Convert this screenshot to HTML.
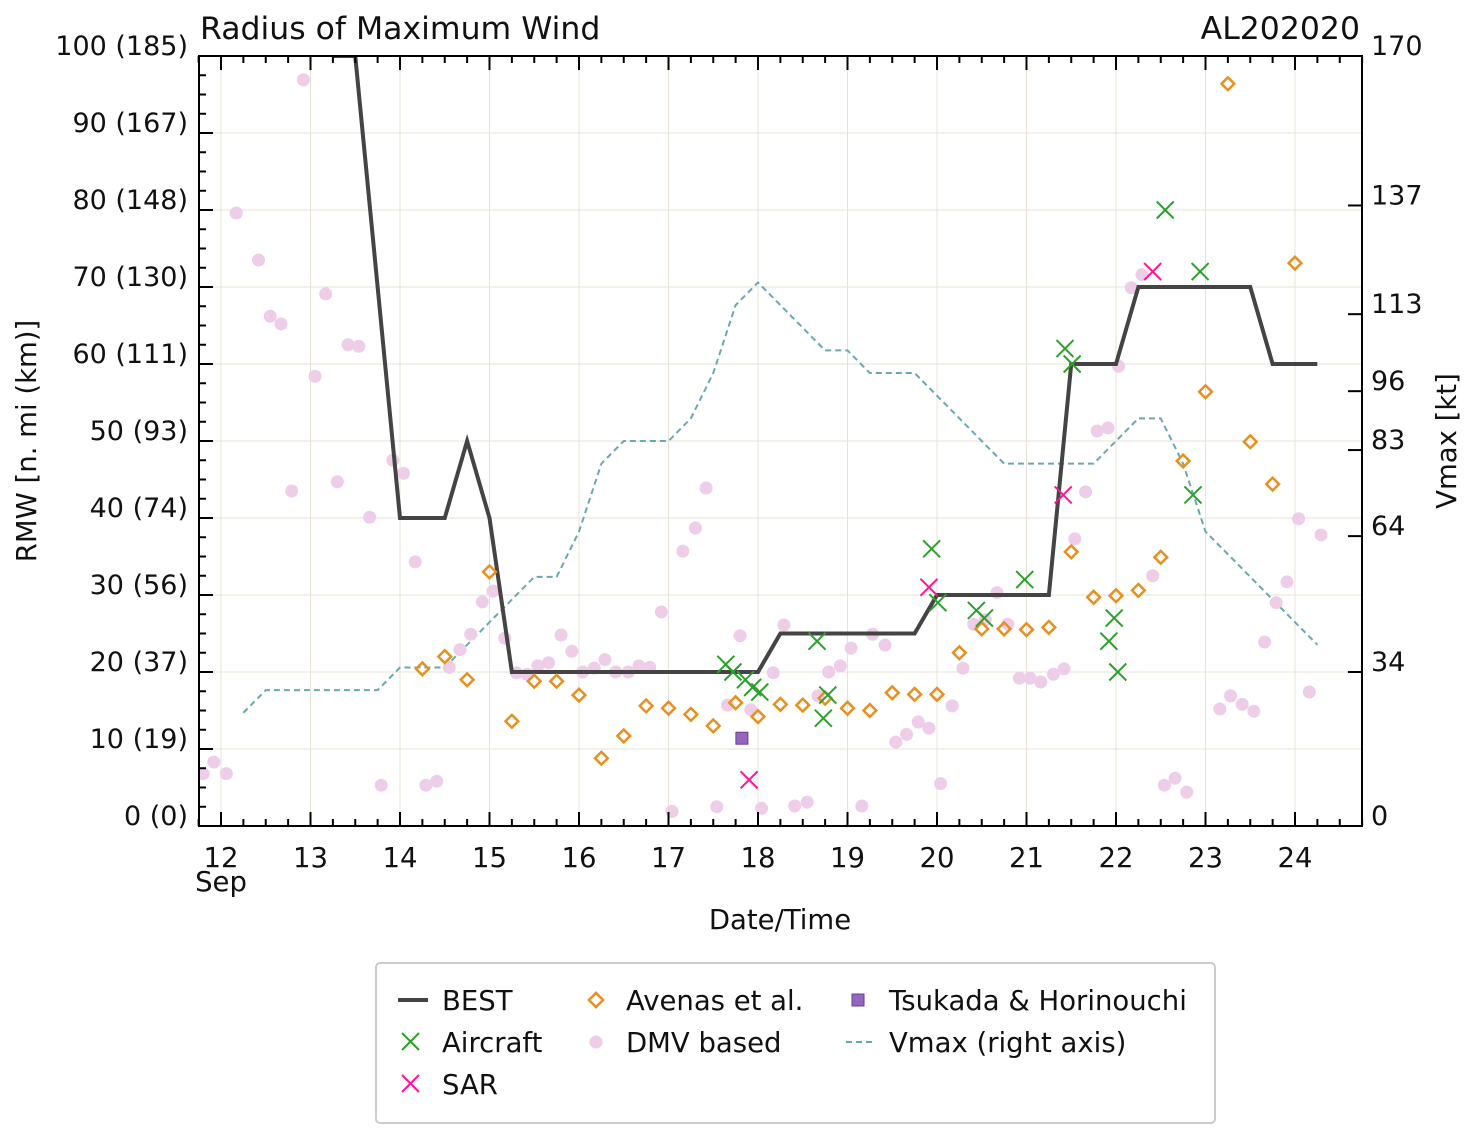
<!DOCTYPE html>
<html><head><meta charset="utf-8"><style>
body{margin:0;background:#fff;}
svg text{font-family:"DejaVu Sans","Liberation Sans",sans-serif;fill:#111;}
</style></head><body>
<svg id="chart" width="1477" height="1138" xmlns="http://www.w3.org/2000/svg">
<g id="grid"></g>
<g id="series"></g>
<g id="axes"></g>
<text x="200" y="39" font-size="31.5">Radius of Maximum Wind</text>
<text x="1360" y="39" font-size="31.5" text-anchor="end">AL202020</text>
<text x="780" y="929" font-size="27.5" text-anchor="middle">Date/Time</text>
<text transform="translate(36,441) rotate(-90)" font-size="27.5" text-anchor="middle">RMW [n. mi (km)]</text>
<text transform="translate(1456,441) rotate(-90)" font-size="27.5" text-anchor="middle">Vmax [kt]</text>
<g>
<rect x="376" y="963" width="839" height="160" rx="4" fill="#fff" stroke="#ccc" stroke-width="2"/>
<line x1="398" y1="1000" x2="428" y2="1000" stroke="#444" stroke-width="4"/>
<text x="442" y="1010" font-size="27.5">BEST</text>
<path d="M402,1033 l17,17 M419,1033 l-17,17" stroke="#2ca02c" stroke-width="2"/>
<text x="442" y="1052" font-size="27.5">Aircraft</text>
<path d="M402,1075 l17,17 M419,1075 l-17,17" stroke="#ff1493" stroke-width="2"/>
<text x="442" y="1094" font-size="27.5">SAR</text>
<rect x="591" y="995" width="10" height="10" transform="rotate(45 596 1000)" fill="none" stroke="#e69020" stroke-width="2.5"/>
<text x="626" y="1010" font-size="27.5">Avenas et al.</text>
<circle cx="596" cy="1042" r="6.5" fill="#eecde8"/>
<text x="626" y="1052" font-size="27.5">DMV based</text>
<rect x="852" y="994" width="12" height="12" fill="#9467bd" stroke="#6a3d9a"/>
<text x="889" y="1010" font-size="27.5">Tsukada &amp; Horinouchi</text>
<line x1="846" y1="1042" x2="876" y2="1042" stroke="#6aa8b0" stroke-width="2" stroke-dasharray="6,4"/>
<text x="889" y="1052" font-size="27.5">Vmax (right axis)</text>
</g>
</svg>
<script>
const bestT=[13.25,13.5,14,14.5,14.75,15,15.25,16,17,18,18.25,19,19.75,20,21,21.25,21.5,22,22.25,23,23.5,23.75,24.25];
const bestR=[100,100,40,40,50,40,20,20,20,20,25,25,25,30,30,30,60,60,70,70,70,60,60];
const vmaxT=[12.25,12.5,12.75,13,13.5,13.75,14,14.5,14.75,15,15.25,15.5,15.75,16,16.25,16.5,17,17.25,17.5,17.75,18,18.25,18.5,18.75,19,19.25,19.75,20,20.25,20.5,20.75,21,21.75,22,22.25,22.5,22.75,23,23.25,23.5,23.75,24,24.25];
const vmaxV=[25,30,30,30,30,30,35,35,40,45,50,55,55,65,80,85,85,90,100,115,120,115,110,105,105,100,100,95,90,85,80,80,80,85,90,90,80,65,60,55,50,45,40];
const airT=[17.64,17.72,17.86,17.94,18.02,18.66,18.73,18.78,19.94,20.01,20.44,20.53,20.98,21.43,21.51,22.55,22.94,22.86,21.98,21.92,22.02];
const airR=[21,20,19,18,17.4,24,14,17,36,29,28,27,32,62,60,80,72,43,27,24,20];
const sarT=[17.9,19.91,21.41,22.41];
const sarR=[6,31,43,72];
const tsuT=[17.82];
const tsuR=[11.4];
const avT=[15,14.5,14.25,14.75,15.25,15.5,15.75,16,16.25,16.5,16.75,17,17.25,17.5,17.75,18,18.25,18.5,18.75,19,19.25,19.5,19.75,20,20.25,20.5,20.75,21,21.25,21.5,21.75,22,22.25,22.5,22.75,23,23.25,23.5,23.75,24];
const avR=[33,22,20.4,19,13.6,18.8,18.8,17,8.8,11.7,15.6,15.3,14.5,13,16,14.2,15.8,15.7,16.6,15.3,15,17.3,17.1,17.1,22.5,25.6,25.6,25.5,25.8,35.6,29.7,29.9,30.6,34.9,47.4,56.4,96.4,49.9,44.4,73.1];
const dmvT=[11.8,11.92,12.06,12.17,12.42,12.55,12.67,12.79,12.92,13.05,13.17,13.3,13.42,13.54,13.66,13.79,13.92,14.04,14.17,14.29,14.41,14.55,14.67,14.79,14.92,15.04,15.17,15.3,15.42,15.54,15.66,15.8,15.92,16.04,16.17,16.29,16.41,16.55,16.67,16.79,16.92,17.04,17.16,17.3,17.42,17.54,17.66,17.8,17.92,18.04,18.17,18.29,18.41,18.55,18.67,18.79,18.92,19.04,19.16,19.28,19.42,19.54,19.66,19.79,19.91,20.04,20.17,20.29,20.41,20.54,20.67,20.79,20.92,21.04,21.16,21.3,21.42,21.54,21.66,21.79,21.91,22.03,22.17,22.29,22.41,22.54,22.66,22.79,23.16,23.28,23.41,23.54,23.66,23.79,23.91,24.04,24.16,24.29];
const dmvR=[6.8,8.3,6.8,79.6,73.5,66.2,65.2,43.5,96.9,58.4,69.1,44.7,62.5,62.3,40.1,5.3,47.5,45.8,34.3,5.3,5.8,20.6,22.9,24.9,29.1,30.5,24.4,19.9,19.7,20.8,21.2,24.8,22.7,20,20.5,21.6,20,20,20.8,20.6,27.8,1.9,35.7,38.7,43.9,2.5,15.7,24.7,15.1,2.3,19.9,26.1,2.6,3.1,16.9,20,20.8,23.1,2.6,24.9,23.5,10.9,11.9,13.5,12.7,5.5,15.6,20.5,26.2,26.8,30.3,26.2,19.2,19.2,18.7,19.7,20.4,37.3,43.4,51.3,51.7,59.7,69.9,71.6,32.5,5.3,6.2,4.4,15.2,16.9,15.8,14.9,23.9,29,31.7,39.9,17.4,37.8];
const leftTicks=["0 (0)","10 (19)","20 (37)","30 (56)","40 (74)","50 (93)","60 (111)","70 (130)","80 (148)","90 (167)","100 (185)"];
const rightTicks=[0,34,64,83,96,113,137,170];
const dayLabels=[12,13,14,15,16,17,18,19,20,21,22,23,24];

const L=199,R=1362,T=56,B=826;
const X=t=>221+(t-12)*89.5;
const Y=r=>B-(r/100)*(B-T);
const YV=v=>B-(v/170)*(B-T);
const NS="http://www.w3.org/2000/svg";
function mk(tag,attrs,parent){const e=document.createElementNS(NS,tag);for(const k in attrs)e.setAttribute(k,attrs[k]);parent.appendChild(e);return e;}
const grid=document.getElementById('grid'),ser=document.getElementById('series'),ax=document.getElementById('axes');
mk('defs',{},ser).innerHTML='<clipPath id="cp"><rect x="199" y="56" width="1163" height="770"/></clipPath>';
ser.setAttribute('clip-path','url(#cp)');
dayLabels.forEach(d=>{const l=mk('line',{x1:X(d),x2:X(d),y1:T,y2:B,stroke:'#e8e2d6','stroke-width':1},grid);

});
leftTicks.forEach((s,i)=>{const l=mk('line',{x1:L,x2:R,y1:Y(i*10),y2:Y(i*10),stroke:'#e8e2d6','stroke-width':1},grid);

});
let p=mk('polyline',{points:vmaxT.map((t,i)=>X(t)+','+YV(vmaxV[i])).join(' '),fill:'none',stroke:'#6aa8b0','stroke-width':2,'stroke-dasharray':'6,4'},ser);


dmvT.forEach((t,i)=>{const c=mk('circle',{cx:X(t),cy:Y(dmvR[i]),r:6.5,fill:'#eecde8'},ser);

});
p=mk('polyline',{points:bestT.map((t,i)=>X(t)+','+Y(bestR[i])).join(' '),fill:'none',stroke:'#444','stroke-width':4},ser);


avT.forEach((t,i)=>{const x=X(t),y=Y(avR[i]);const d=mk('rect',{x:x-4.5,y:y-4.5,width:9,height:9,transform:`rotate(45 ${x} ${y})`,fill:'none',stroke:'#e69020','stroke-width':2.5},ser);

});
function xm(t,r,col,name){const x=X(t),y=Y(r);const e=mk('path',{d:`M${x-8.5},${y-8.5}L${x+8.5},${y+8.5}M${x+8.5},${y-8.5}L${x-8.5},${y+8.5}`,stroke:col,'stroke-width':2},ser);

}
airT.forEach((t,i)=>xm(t,airR[i],'#2ca02c','aircraft-point'));
sarT.forEach((t,i)=>xm(t,sarR[i],'#ff1493','sar-point'));
tsuT.forEach((t,i)=>{const s=mk('rect',{x:X(t)-6,y:Y(tsuR[i])-6,width:12,height:12,fill:'#9467bd',stroke:'#6a3d9a'},ser);

});
const fr=mk('rect',{x:L,y:T,width:R-L,height:B-T,fill:'none',stroke:'#000','stroke-width':2},ax);


for(let t=11.75;t<=24.75;t+=0.25){const maj=Math.abs(t-Math.round(t))<1e-6;const len=maj?14:7;
mk('line',{x1:X(t),x2:X(t),y1:B,y2:B-len,stroke:'#000','stroke-width':2},ax);
mk('line',{x1:X(t),x2:X(t),y1:T,y2:T+len,stroke:'#000','stroke-width':2},ax);}
dayLabels.forEach(d=>{const tx=mk('text',{x:X(d),y:867,'font-size':27.5,'text-anchor':'middle'},ax);tx.textContent=d;

});
const sep=mk('text',{x:X(12),y:891,'font-size':27.5,'text-anchor':'middle'},ax);sep.textContent='Sep';


for(let r=0;r<=100;r+=2.5){const maj=r%10===0;mk('line',{x1:L,x2:L+(maj?14:7),y1:Y(r),y2:Y(r),stroke:'#000','stroke-width':2},ax);}
leftTicks.forEach((s,i)=>{const tx=mk('text',{x:188,y:Y(i*10)-1,'font-size':27,'text-anchor':'end'},ax);tx.textContent=s;

});
rightTicks.forEach(v=>{mk('line',{x1:R,x2:R-14,y1:YV(v),y2:YV(v),stroke:'#000','stroke-width':2},ax);
const tx=mk('text',{x:1371,y:YV(v)-1,'font-size':27},ax);tx.textContent=v;

});
</script>
</body></html>
